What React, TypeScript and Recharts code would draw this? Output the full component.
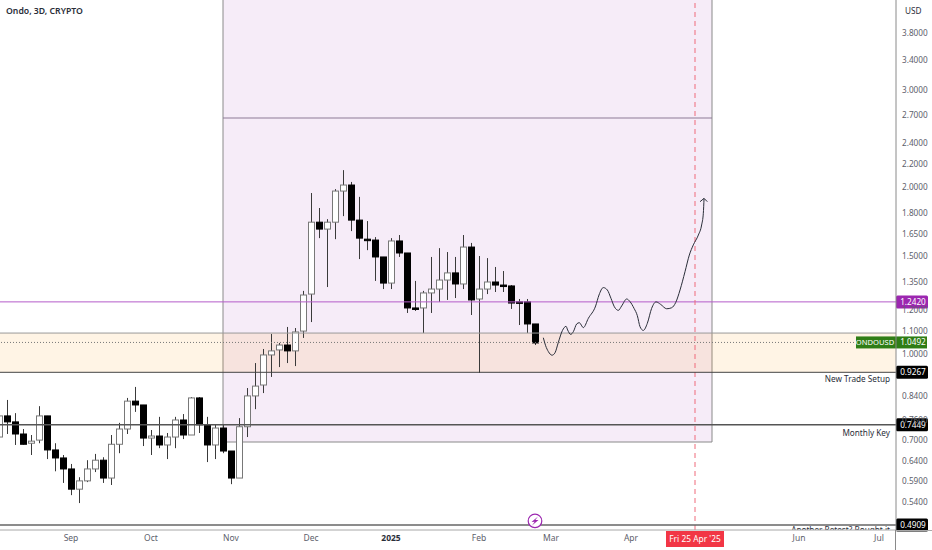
import React from "react";
import {
  ComposedChart,
  Bar,
  Line,
  XAxis,
  YAxis,
  ReferenceArea,
  ReferenceLine,
  ReferenceDot,
} from "recharts";

const FONT = "'Noto Sans', 'Open Sans', sans-serif";

const opens = [0.708,0.773,0.754,0.717,0.69,0.699,0.773,0.671,0.649,0.62,0.57,0.59,0.62,0.643,0.597,0.687,0.732,0.822,0.809,0.705,0.711,0.685,0.708,0.76,0.714,0.833,0.745,0.685,0.735,0.668,0.597,0.739,0.84,0.879,0.996,1.017,1.038,1.013,1.1,1.283,1.73,1.681,1.73,1.969,2.019,1.745,1.612,1.606,1.497,1.343,1.6,1.522,1.211,1.211,1.289,1.31,1.36,1.401,1.338,1.56,1.257,1.31,1.349,1.332,1.327,1.242,1.242,1.133];
const highs = [0.786,0.826,0.782,0.732,0.714,0.805,0.773,0.69,0.657,0.633,0.599,0.643,0.66,0.651,0.714,0.751,0.833,0.872,0.809,0.729,0.77,0.72,0.77,0.779,0.836,0.836,0.77,0.745,0.745,0.668,0.766,0.868,0.963,1.021,1.087,1.047,1.119,1.114,1.3,1.953,1.835,1.752,1.985,2.148,2.045,1.922,1.738,1.626,1.497,1.619,1.64,1.522,1.355,1.3,1.497,1.553,1.528,1.497,1.64,1.587,1.503,1.49,1.436,1.412,1.332,1.257,1.257,1.133];
const lows = [0.696,0.717,0.685,0.686,0.657,0.69,0.646,0.614,0.585,0.556,0.538,0.587,0.612,0.585,0.58,0.662,0.717,0.786,0.682,0.657,0.676,0.646,0.676,0.702,0.714,0.72,0.638,0.646,0.662,0.582,0.597,0.708,0.795,0.85,0.909,0.947,0.963,0.951,1.069,1.142,1.619,1.321,1.612,1.774,1.667,1.484,1.54,1.355,1.31,1.31,1.497,1.186,1.196,1.091,1.186,1.242,1.252,1.262,1.31,1.176,0.924,1.283,1.294,1.294,1.206,1.128,1.091,1.038];
const closes = [0.773,0.754,0.717,0.687,0.696,0.773,0.671,0.649,0.62,0.57,0.59,0.62,0.643,0.597,0.687,0.732,0.822,0.809,0.705,0.711,0.685,0.708,0.76,0.714,0.833,0.745,0.685,0.735,0.668,0.597,0.739,0.84,0.875,0.996,1.013,1.038,1.013,1.096,1.278,1.73,1.681,1.73,1.969,2.019,1.745,1.619,1.606,1.497,1.343,1.6,1.522,1.211,1.206,1.289,1.31,1.36,1.401,1.338,1.56,1.252,1.31,1.349,1.332,1.327,1.236,1.236,1.133,1.047];

const pathIndex = [68.04,68.33,68.67,69.13,69.5,69.92,70.42,70.88,71.08,71.46,71.79,72.21,72.54,73.04,73.67,74.58,75,75.54,76.04,76.5,76.92,77.42,77.83,78.46,78.88,79.38,79.79,80.13,80.54,81.04,81.58,82.13,82.71,83.46,84.08,84.58,85.13,85.75,86.29,86.79,87.42,87.83,88.04,88.13];
const pathPrice = [1.07,1.035,1.01,0.995,1.005,1.05,1.102,1.122,1.105,1.085,1.097,1.133,1.139,1.116,1.16,1.221,1.278,1.318,1.305,1.26,1.217,1.199,1.221,1.257,1.243,1.209,1.173,1.12,1.103,1.136,1.209,1.242,1.229,1.207,1.212,1.238,1.305,1.408,1.509,1.574,1.64,1.71,1.795,1.91];
const arrowIndex = [87.63,88.13,88.54];
const arrowPrice = [1.884,1.91,1.884];

const priceTicks = [3.8,3.4,3,2.7,2.4,2.2,2,1.8,1.65,1.5,1.35,1.2,1.1,1,0.84,0.76,0.7,0.64,0.59,0.54];
const timeTickIndex = [9,19,29,39,49,60,69,79,100,110];
const timeTickLabels = ["Sep","Oct","Nov","Dec","2025","Feb","Mar","Apr","Jun","Jul"];

const xDomain = [0.125, 112.125];
const yDomain = [0.481, 4.358];
const boxStart = 28;
const boxEnd = 89.125;
const boxBottom = 0.6935;
const boxLine = 2.668;
const zoneTop = 1.091;
const setupLevel = 0.9267;
const lastPrice = 1.0492;
const purpleLevel = 1.242;
const monthlyLevel = 0.7449;
const retestLevel = 0.4909;
const cursorIndex = 87;

const candles = opens.map((o, k) => ({
  i: k,
  o,
  h: highs[k],
  l: lows[k],
  c: closes[k],
  range: [lows[k], highs[k]],
}));
const drawnPath = pathIndex.map((i, k) => ({ i, p: pathPrice[k] }));
const arrowHead = arrowIndex.map((i, k) => ({ i, p: arrowPrice[k] }));

function Candle(props: any) {
  const { x, y, width, height, payload } = props;
  if (!payload || !isFinite(y) || !isFinite(height)) return null;
  const { o, h, l, c } = payload;
  const cx = Math.round(x + width / 2) + 0.5;
  const span = Math.log(h / l) || 1;
  const top = y + (height * Math.log(h / Math.max(o, c))) / span;
  const bottom = y + (height * Math.log(h / Math.min(o, c))) / span;
  const up = c >= o;
  return (
    <g>
      <line x1={cx} x2={cx} y1={y} y2={y + height} stroke="#3a3a3a" strokeWidth={1} />
      <rect
        x={cx - 3}
        y={top}
        width={6}
        height={Math.max(bottom - top, 1.5)}
        fill={up ? "#ffffff" : "#000000"}
        stroke={up ? "#787878" : "#000000"}
        strokeWidth={1}
      />
    </g>
  );
}

function PriceTick(props: any) {
  const { x, y, payload } = props;
  return (
    <text x={x} y={y + 3} fontSize={8.2} fontFamily={FONT} fill="#5d606b" textAnchor="start">
      {payload.value.toFixed(4)}
    </text>
  );
}

function TimeTick(props: any) {
  const { x, y, payload } = props;
  const label = timeTickLabels[timeTickIndex.indexOf(payload.value)];
  const isYear = label === "2025";
  return (
    <text
      x={x}
      y={y + 3}
      fontSize={8.5}
      fontFamily={FONT}
      fontWeight={isYear ? 700 : 400}
      fill={isYear ? "#2a2e39" : "#5d606b"}
      textAnchor="middle"
    >
      {label}
    </text>
  );
}

function priceTag(text: string, bg: string, w = 32) {
  return (p: any) => {
    const right = p.viewBox.x + p.viewBox.width;
    const cy = p.viewBox.y;
    return (
      <g>
        <rect x={right} y={cy - 6.5} width={w} height={13} rx={1.5} fill={bg} />
        <text x={right + 17} y={cy + 3} fontSize={8.2} fontFamily={FONT} fill="#ffffff" textAnchor="middle">
          {text}
        </text>
      </g>
    );
  };
}

function lastTag(p: any) {
  const right = p.viewBox.x + p.viewBox.width;
  const cy = p.viewBox.y;
  return (
    <g>
      <rect x={right - 40} y={cy - 6} width={71} height={12} fill="#2f7d16" />
      <text x={right - 21} y={cy + 2.8} fontSize={7.6} fontFamily={FONT} fill="#ffffff" textAnchor="middle">
        ONDOUSD
      </text>
      <text x={right + 17} y={cy + 3} fontSize={8.2} fontFamily={FONT} fill="#ffffff" textAnchor="middle">
        1.0492
      </text>
    </g>
  );
}

function note(text: string, dy: number) {
  return (p: any) => (
    <text
      x={p.viewBox.x + p.viewBox.width - 6}
      y={p.viewBox.y + dy}
      fontSize={8.2}
      fontFamily={FONT}
      fill="#2a2e39"
      textAnchor="end"
    >
      {text}
    </text>
  );
}

function clippedNote(p: any) {
  const y = p.viewBox.y;
  return (
    <g>
      <clipPath id="retest-clip">
        <rect x={p.viewBox.x} y={y} width={p.viewBox.width} height={5} />
      </clipPath>
      <text
        clipPath="url(#retest-clip)"
        x={p.viewBox.x + p.viewBox.width - 6}
        y={y + 8}
        fontSize={8.2}
        fontFamily={FONT}
        fill="#2a2e39"
        textAnchor="end"
      >
        Another Retest? Bought it
      </text>
    </g>
  );
}

function cursorTag(p: any) {
  const cx = p.viewBox.x;
  const base = p.viewBox.y + p.viewBox.height;
  return (
    <g>
      <rect x={cx - 29} y={base + 1} width={58} height={16} fill="#f23645" />
      <text x={cx} y={base + 12} fontSize={8.4} fontFamily={FONT} fill="#ffffff" textAnchor="middle">
        Fri 25 Apr '25
      </text>
    </g>
  );
}

function Bolt(props: any) {
  const { cx, cy } = props;
  return (
    <g>
      <circle cx={cx} cy={cy} r={6.8} fill="#ffffff" stroke="#9c27b0" strokeWidth={1.2} />
      <path
        d={`M${cx + 3} ${cy - 4.5}L${cx - 3.5} ${cy + 1}L${cx - 0.3} ${cy + 0.8}L${cx - 3} ${cy + 4.5}L${cx + 3.5} ${cy - 1}L${cx + 0.3} ${cy - 0.8}Z`}
        fill="#9c27b0"
      />
    </g>
  );
}

export default function App() {
  return (
    <div style={{ position: "absolute", left: 0, top: 0, width: 932, height: 550, background: "#fff", overflow: "hidden" }}>
      <ComposedChart width={932} height={550} data={candles} margin={{ top: 0, right: 0, bottom: 0, left: 0 }}>
        <XAxis
          xAxisId={0}
          dataKey="i"
          type="number"
          domain={xDomain}
          allowDataOverflow
          ticks={timeTickIndex}
          interval={0}
          height={20}
          tick={<TimeTick />}
          tickLine={false}
          axisLine={{ stroke: "#a8a8a8" }}
        />
        <YAxis
          yAxisId={0}
          orientation="right"
          scale="log"
          type="number"
          domain={yDomain}
          allowDataOverflow
          ticks={priceTicks}
          interval={0}
          width={36}
          tick={<PriceTick />}
          tickLine={false}
          axisLine={{ stroke: "#8a8a8a" }}
          tickMargin={0}
        />
        <ReferenceArea
          x1={boxStart}
          x2={boxEnd}
          y1={boxBottom}
          y2={6}
          ifOverflow="hidden"
          fill="#9c27b0"
          fillOpacity={0.09}
          stroke="#8a8a8a"
          strokeWidth={1}
        />
        <ReferenceArea
          x1={xDomain[0] - 2}
          x2={xDomain[1] + 2}
          y1={setupLevel}
          y2={zoneTop}
          ifOverflow="hidden"
          fill="#ff9800"
          fillOpacity={0.1}
          stroke="none"
        />
        <ReferenceLine
          segment={[{ x: boxStart, y: boxLine }, { x: boxEnd, y: boxLine }]}
          stroke="#8d7a96"
          strokeWidth={1}
        />
        <ReferenceLine y={zoneTop} stroke="#9a9a9a" strokeWidth={1} />
        <ReferenceLine y={purpleLevel} stroke="#b45cc9" strokeWidth={1} label={{ content: priceTag("1.2420", "#9c27b0") }} />
        <ReferenceLine y={lastPrice} stroke="#777" strokeWidth={1} strokeDasharray="1 2" label={{ content: lastTag }} />
        <ReferenceLine x={cursorIndex} stroke="#ef6a7b" strokeWidth={1} strokeDasharray="5 4" label={{ content: cursorTag }} />
        <Bar dataKey="range" barSize={7} shape={<Candle />} isAnimationActive={false} />
        <Line data={drawnPath} dataKey="p" type="monotone" dot={false} activeDot={false} stroke="#2a2e39" strokeWidth={1} isAnimationActive={false} />
        <Line data={arrowHead} dataKey="p" type="linear" dot={false} activeDot={false} stroke="#2a2e39" strokeWidth={1} isAnimationActive={false} />
        <ReferenceLine y={setupLevel} stroke="#444" strokeWidth={1} label={{ content: note("New Trade Setup", 10) }} />
        <ReferenceLine y={setupLevel} stroke="none" label={{ content: priceTag("0.9267", "#000000") }} />
        <ReferenceLine y={monthlyLevel} stroke="#555" strokeWidth={1.5} label={{ content: note("Monthly Key", 11) }} />
        <ReferenceLine y={monthlyLevel} stroke="none" label={{ content: priceTag("0.7449", "#000000") }} />
        <ReferenceLine y={retestLevel} stroke="#666" strokeWidth={1.5} label={{ content: clippedNote }} />
        <ReferenceLine y={retestLevel} stroke="none" label={{ content: priceTag("0.4909", "#000000") }} />
        <ReferenceDot x={67} y={0.4995} r={6} shape={<Bolt />} />
      </ComposedChart>
      <div style={{ position: "absolute", left: 6, top: 5, fontFamily: FONT, fontSize: 8.7, fontWeight: 600, color: "#2a2e39", whiteSpace: "nowrap" }}>
        Ondo, 3D, CRYPTO
      </div>
      <div style={{ position: "absolute", left: 905, top: 5, fontFamily: FONT, fontSize: 8.2, color: "#2a2e39" }}>USD</div>
      <div style={{ position: "absolute", left: 896, top: 530, width: 36, height: 1, background: "#a8a8a8" }} />
      <div style={{ position: "absolute", left: 895, top: 530, width: 1, height: 20, background: "#8a8a8a" }} />
    </div>
  );
}
